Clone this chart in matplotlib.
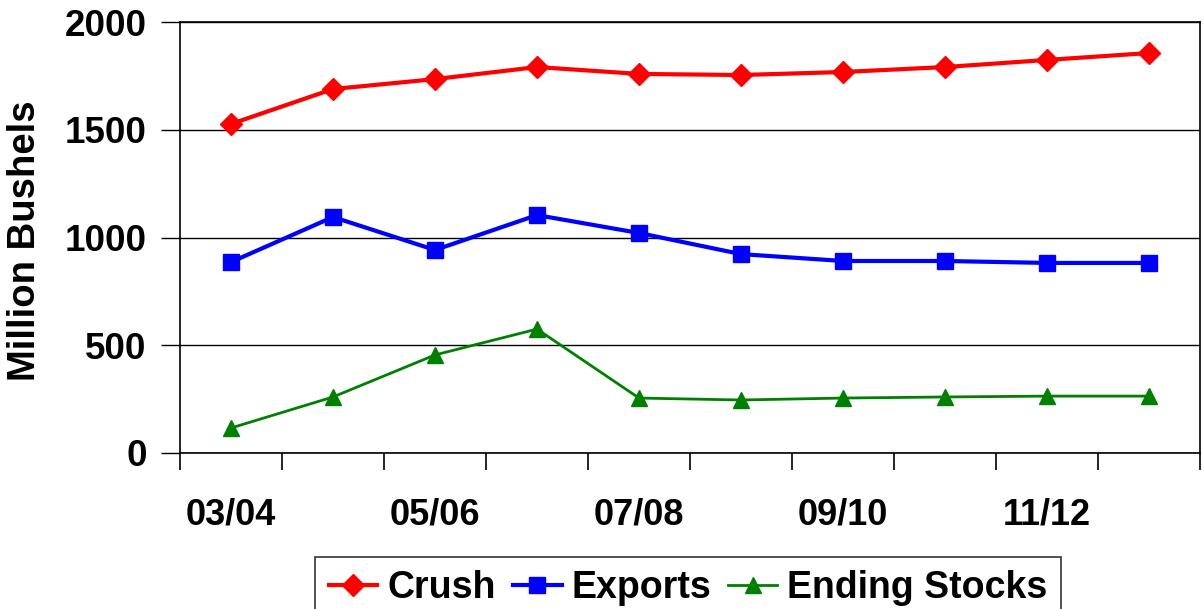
import matplotlib
matplotlib.use('Agg')
import matplotlib.pyplot as plt
import numpy as np

plt.rcParams['font.family'] = ['Liberation Sans', 'DejaVu Sans']
plt.rcParams['font.weight'] = 'bold'

# marketing years 03/04 .. 12/13
years = ['03/04', '04/05', '05/06', '06/07', '07/08', '08/09', '09/10', '10/11', '11/12', '12/13']
crush = [1527, 1689, 1735, 1791, 1759, 1754, 1768, 1791, 1824, 1856]
exports = [886, 1095, 942, 1104, 1021, 923, 891, 891, 882, 882]
ending_stocks = [116, 260, 455, 575, 255, 246, 255, 260, 264, 264]

x = np.arange(len(years))

fig = plt.figure(figsize=(12.04, 6.09), dpi=100)
ax = fig.add_axes([180 / 1204, 1 - 453 / 609, 1020 / 1204, 431 / 609])

ax.plot(x, crush, color='red', lw=3, marker='D', ms=11, label='Crush')
ax.plot(x, exports, color='blue', lw=3, marker='s', ms=12, label='Exports')
ax.plot(x, ending_stocks, color='green', lw=2, marker='^', ms=11, label='Ending Stocks')

ax.set_xlim(-0.5, len(years) - 0.5)
ax.set_ylim(0, 2000)
ax.set_yticks([0, 500, 1000, 1500, 2000])
ax.yaxis.grid(True, color='black', lw=1)
ax.set_axisbelow(True)

# labels every other year, tick marks between categories
ax.set_xticks(x[::2])
ax.set_xticklabels(years[::2])
ax.set_xticks(np.arange(-0.5, len(years)), minor=True)
ax.tick_params(axis='x', which='major', length=0, pad=32, labelsize=26)
ax.tick_params(axis='x', which='minor', length=12, width=1.2, direction='out')
ax.tick_params(axis='y', length=14, width=1, direction='out', pad=10, labelsize=26.5)

for s in ax.spines.values():
    s.set_linewidth(1.2)
    s.set_color('black')

ax.set_ylabel('Million Bushels', fontsize=27.5, fontweight='bold', va='center', ha='center')
ax.yaxis.set_label_coords(25 / 1204, 1 - 241 / 609, transform=fig.transFigure)

leg = fig.legend(loc='upper center', bbox_to_anchor=(688 / 1204, 1 - 557 / 609), ncol=3,
                 fontsize=27, frameon=True, fancybox=False, edgecolor='black',
                 handlelength=1.3, handletextpad=0.27, columnspacing=0.45, borderpad=0.35,
                 borderaxespad=0)
leg.get_frame().set_linewidth(1.2)

fig.savefig('out.png', dpi=100)
